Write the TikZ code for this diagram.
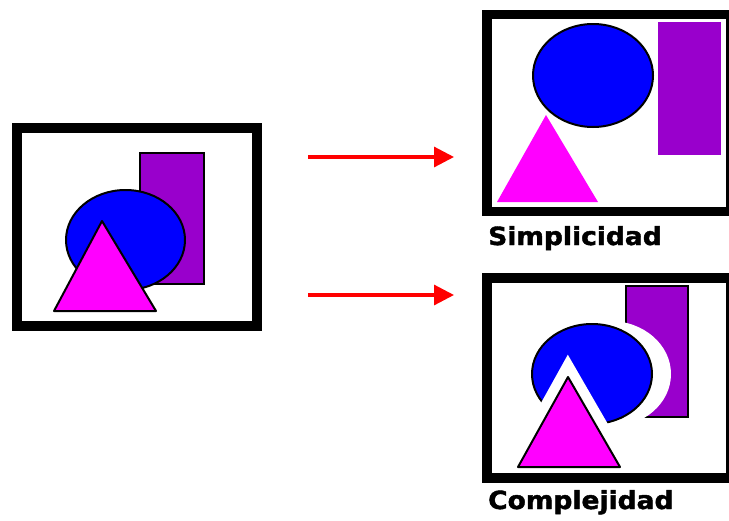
\documentclass[tikz,border=0pt]{standalone}
\usepackage{fontspec}
\setmainfont{DejaVu Sans}
\newfontfamily\captionfont[BoldFeatures={FakeBold=1.6}]{DejaVu Sans}
\usetikzlibrary{arrows.meta}

\definecolor{shapeblue}{HTML}{0000FF}
\definecolor{shapepurple}{HTML}{9900CC}
\definecolor{shapemagenta}{HTML}{FF00FF}

\tikzset{
  frame/.style={draw=black, line width=10pt, fill=white},
  outlined/.style={draw=black, line width=2pt, line join=round},
  flow/.style={draw=red, line width=3.2pt, -{Triangle[length=20pt,width=20pt]}},
  caption/.style={anchor=base west, inner sep=0pt, font=\captionfont\bfseries\fontsize{25}{28}\selectfont},
  halo/.style={draw=white, fill=white, line width=22pt, line join=miter}
}

\begin{document}
\begin{tikzpicture}[x=1pt, y=-1pt]
  \useasboundingbox (0,0) rectangle (729,520);
  \clip (0,0) rectangle (729,520);

  % ---- original composition (left) ----
  \draw[frame] (16.5,127.5) rectangle (257,326);
  \filldraw[fill=shapepurple, draw=black, line width=1.5pt] (140,153) rectangle (204,284);
  \filldraw[fill=shapeblue, outlined] (125.5,240) ellipse [x radius=59.5, y radius=50];
  \filldraw[fill=shapemagenta, outlined] (102,221) -- (54,311) -- (156,311) -- cycle;

  % ---- transitions ----
  \coordinate (a1s) at (308,157);
  \coordinate (a1e) at (454,157);
  \coordinate (a2s) at (308,295);
  \coordinate (a2e) at (454,295);
  \draw[flow] (a1s) -- (a1e);
  \draw[flow] (a2s) -- (a2e);

  % ---- simple version (top right) ----
  \draw[frame, line width=9.5pt] (487,14.5) rectangle (731,211.5);
  \fill[shapepurple] (658,22) rectangle (721,155);
  \filldraw[fill=shapeblue, outlined] (593,75.5) ellipse [x radius=60, y radius=51.5];
  \fill[shapemagenta] (546,115) -- (497,202) -- (598,202) -- cycle;
  \node[caption] (simple) at (488,245) {\scalebox{1.06}[1]{Simplicidad}};

  % ---- complex version (bottom right) ----
  \fill[white] (492,282) rectangle (726,472);
  \filldraw[fill=shapepurple, draw=black, line width=1.5pt] (626,286) rectangle (688,417);
  \fill[white] (610,374) ellipse [x radius=61, y radius=53];
  \filldraw[fill=shapeblue, outlined] (592,374) ellipse [x radius=60, y radius=50];
  \path[halo] (568,377) -- (518,467) -- (620,467) -- cycle;
  \filldraw[fill=shapemagenta, outlined] (568,377) -- (518,467) -- (620,467) -- cycle;
  \draw[frame, fill=none] (487,277.5) rectangle (731,477.5);
  \node[caption] (complex) at (488,509) {\scalebox{1.06}[1]{Complejidad}};
\end{tikzpicture}
\end{document}
